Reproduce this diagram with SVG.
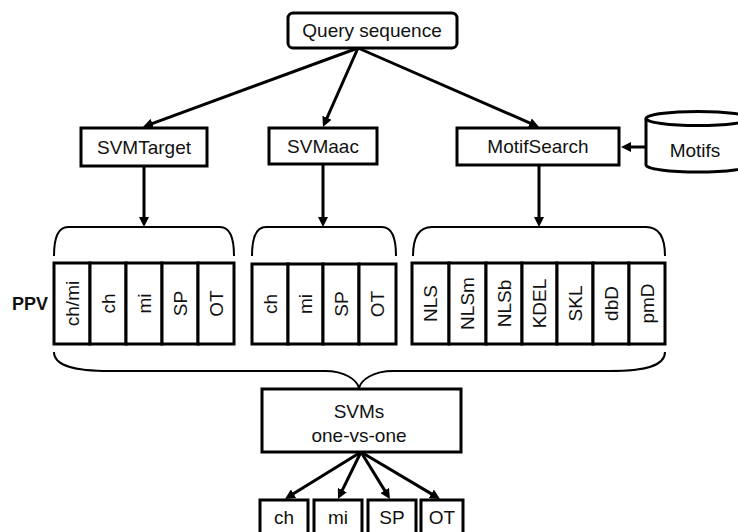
<svg xmlns="http://www.w3.org/2000/svg" width="738" height="532" viewBox="0 0 738 532">
<style>
text{font-family:"Liberation Sans",Arial,sans-serif;font-size:19px;fill:#111;text-anchor:middle;dominant-baseline:central}
.box{fill:#fff;stroke:#000;stroke-width:3}
.cell{fill:#fff;stroke:#000;stroke-width:3}
.brace{fill:none;stroke:#000;stroke-width:2}
.conn{stroke:#000;stroke-width:3;fill:none;marker-end:url(#ah)}
.b{font-weight:bold;font-size:18px}
</style>
<defs>
<marker id="ah" markerUnits="userSpaceOnUse" markerWidth="10" markerHeight="10" refX="4" refY="5" orient="auto">
<path d="M0,0 L10,5 L0,10 z" fill="#000"/>
</marker>
</defs>
<rect width="738" height="532" fill="#fff"/>
<g id="connectors">
<line class="conn" x1="358" y1="48" x2="148.6" y2="124.9"/>
<line class="conn" x1="358" y1="48" x2="325.4" y2="121.5"/>
<line class="conn" x1="358" y1="48" x2="533.5" y2="124.6"/>
<line class="conn" x1="144" y1="166" x2="144" y2="221"/>
<line class="conn" x1="323" y1="164" x2="323" y2="221"/>
<line class="conn" x1="539" y1="165" x2="539" y2="221"/>
<line class="conn" x1="646" y1="147" x2="627" y2="147"/>
<line class="conn" x1="361" y1="452" x2="290.1" y2="495.8"/>
<line class="conn" x1="361" y1="452" x2="340.6" y2="493.6"/>
<line class="conn" x1="361" y1="452" x2="386.8" y2="493.9"/>
<line class="conn" x1="361" y1="452" x2="434.8" y2="495.9"/>
<path class="brace" d="M54,256 C54,238 58,227 68,227 L220,227 C230,227 234,238 234,256"/>
<path class="brace" d="M252,256 C252,238 256,227 266,227 L382,227 C392,227 396,238 396,256"/>
<path class="brace" d="M413,256 C413,238 418,227 432,227 L646,227 C660,227 665,238 665,256"/>
<path class="brace" d="M54,352 C54,366 75,371 110,371 L325,371 C345,371 357,380 359,388 C361,380 373,371 393,371 L610,371 C645,371 665,366 665,352"/>
</g>
<g id="query">
<rect class="box" x="288" y="13" width="169" height="35" rx="5"/>
<text x="372" y="30">Query sequence</text>
</g>
<g id="svmtarget">
<rect class="box" x="81" y="128" width="126" height="38"/>
<text x="144" y="147">SVMTarget</text>
</g>
<g id="svmaac">
<rect class="box" x="269" y="128" width="108" height="36"/>
<text x="323" y="146">SVMaac</text>
</g>
<g id="motifsearch">
<rect class="box" x="457" y="128" width="162" height="37"/>
<text x="538" y="146.5">MotifSearch</text>
</g>
<g id="motifs">
<path class="box" d="M646,118.5 L646,165 A52,7 0 0 0 750,165 L750,118.5"/>
<ellipse class="box" cx="698" cy="118.5" rx="52" ry="7"/>
<text x="695" y="150">Motifs</text>
</g>
<g id="ppv-label">
<text class="b" x="30" y="304">PPV</text>
</g>
<g id="svmtarget-ppv">
<rect class="cell" x="54" y="263" width="36" height="81"/>
<rect class="cell" x="90" y="263" width="36" height="81"/>
<rect class="cell" x="126" y="263" width="36" height="81"/>
<rect class="cell" x="162" y="263" width="36" height="81"/>
<rect class="cell" x="198" y="263" width="36" height="81"/>
<text transform="translate(72,303.5) rotate(-90)">ch/mi</text>
<text transform="translate(108,303.5) rotate(-90)">ch</text>
<text transform="translate(144,303.5) rotate(-90)">mi</text>
<text transform="translate(180,303.5) rotate(-90)">SP</text>
<text transform="translate(216,303.5) rotate(-90)">OT</text>
</g>
<g id="svmaac-ppv">
<rect class="cell" x="252" y="264" width="36" height="80"/>
<rect class="cell" x="288" y="264" width="35" height="80"/>
<rect class="cell" x="323" y="264" width="36" height="80"/>
<rect class="cell" x="359" y="264" width="37" height="80"/>
<text transform="translate(270,304) rotate(-90)">ch</text>
<text transform="translate(305.5,304) rotate(-90)">mi</text>
<text transform="translate(341,304) rotate(-90)">SP</text>
<text transform="translate(377.5,304) rotate(-90)">OT</text>
</g>
<g id="motif-ppv">
<rect class="cell" x="412" y="263" width="37" height="81"/>
<rect class="cell" x="449" y="263" width="37" height="81"/>
<rect class="cell" x="486" y="263" width="36" height="81"/>
<rect class="cell" x="522" y="263" width="35" height="81"/>
<rect class="cell" x="557" y="263" width="36" height="81"/>
<rect class="cell" x="593" y="263" width="36" height="81"/>
<rect class="cell" x="629" y="263" width="36" height="81"/>
<text transform="translate(430.5,303.5) rotate(-90)">NLS</text>
<text transform="translate(467.5,303.5) rotate(-90)">NLSm</text>
<text transform="translate(504,303.5) rotate(-90)">NLSb</text>
<text transform="translate(539.5,303.5) rotate(-90)">KDEL</text>
<text transform="translate(575,303.5) rotate(-90)">SKL</text>
<text transform="translate(611,303.5) rotate(-90)">dbD</text>
<text transform="translate(647,303.5) rotate(-90)">pmD</text>
</g>
<g id="svms">
<rect class="box" x="262" y="389" width="199" height="63"/>
<text x="359" y="411">SVMs</text>
<text x="359" y="435">one-vs-one</text>
</g>
<g id="out-ch">
<rect class="box" x="260" y="500" width="48" height="40"/>
<text x="284" y="517">ch</text>
</g>
<g id="out-mi">
<rect class="box" x="314" y="500" width="48" height="40"/>
<text x="338" y="517">mi</text>
</g>
<g id="out-sp">
<rect class="box" x="368" y="500" width="48" height="40"/>
<text x="392" y="517">SP</text>
</g>
<g id="out-ot">
<rect class="box" x="421" y="500" width="42" height="40"/>
<text x="442" y="517">OT</text>
</g>
</svg>
